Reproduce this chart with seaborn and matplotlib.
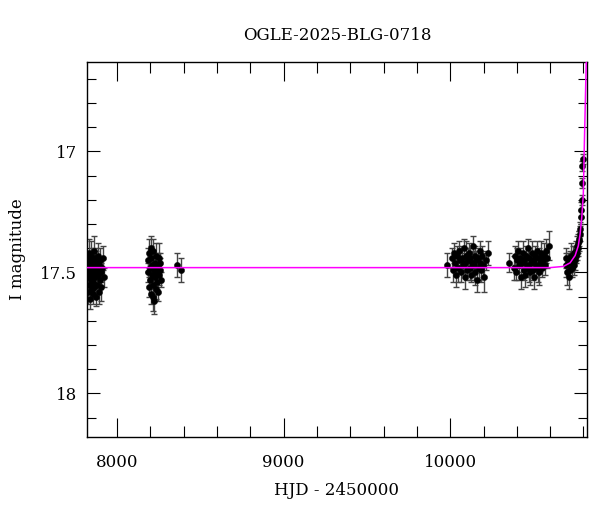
# OGLE-2025-BLG-0718 light curve with PSPL model
import matplotlib
matplotlib.use("Agg")
import matplotlib.pyplot as plt
from matplotlib.ticker import MultipleLocator
import seaborn as sns
import pandas as pd

# season 1
t1 = [7822, 7824, 7826, 7828, 7830, 7832, 7834, 7836, 7838, 7840,
      7842, 7844, 7846, 7848, 7850, 7852, 7854, 7856, 7858, 7860,
      7862, 7864, 7866, 7868, 7870, 7873, 7876, 7879, 7882, 7885,
      7888, 7891, 7894, 7897, 7900, 7903, 7907, 7911, 7915, 7920]
m1 = [17.47, 17.52, 17.44, 17.58, 17.49, 17.42, 17.55, 17.50, 17.46, 17.61,
      17.48, 17.53, 17.43, 17.57, 17.51, 17.45, 17.59, 17.47, 17.54, 17.41,
      17.50, 17.56, 17.48, 17.44, 17.52, 17.60, 17.46, 17.49, 17.55, 17.43,
      17.51, 17.58, 17.47, 17.53, 17.45, 17.50, 17.56, 17.48, 17.44, 17.52]
e1 = [0.04, 0.05, 0.03, 0.05, 0.04, 0.06, 0.04, 0.05, 0.03, 0.04,
      0.05, 0.04, 0.06, 0.04, 0.03, 0.05, 0.04, 0.05, 0.04, 0.06,
      0.04, 0.03, 0.05, 0.04, 0.06, 0.04, 0.05, 0.03, 0.04, 0.05,
      0.04, 0.05, 0.03, 0.04, 0.05, 0.04, 0.06, 0.04, 0.05, 0.04]

# season 2
t2 = [8186, 8189, 8192, 8195, 8198, 8201, 8204, 8207, 8210, 8213,
      8216, 8219, 8222, 8225, 8228, 8231, 8234, 8237, 8240, 8243,
      8246, 8249, 8252, 8255, 8258, 8261, 8264, 8203, 8218, 8233]
m2 = [17.45, 17.50, 17.42, 17.56, 17.48, 17.53, 17.44, 17.59, 17.47, 17.51,
      17.41, 17.55, 17.49, 17.62, 17.46, 17.52, 17.57, 17.43, 17.50, 17.54,
      17.47, 17.58, 17.44, 17.51, 17.49, 17.46, 17.53, 17.40, 17.60, 17.48]
e2 = [0.05, 0.04, 0.06, 0.04, 0.05, 0.03, 0.05, 0.04, 0.06, 0.04,
      0.05, 0.04, 0.03, 0.05, 0.04, 0.06, 0.04, 0.05, 0.04, 0.03,
      0.05, 0.04, 0.06, 0.04, 0.05, 0.04, 0.03, 0.05, 0.06, 0.04]

# season 3
t3 = [8362, 8384]
m3 = [17.47, 17.49]
e3 = [0.05, 0.05]

# season 4
t4 = [9982, 10010, 10018, 10025, 10031, 10037, 10043, 10049, 10055, 10061,
      10066, 10071, 10076, 10081, 10086, 10091, 10096, 10101, 10106, 10111,
      10116, 10121, 10126, 10131, 10136, 10141, 10146, 10151, 10156, 10161,
      10166, 10171, 10176, 10181, 10186, 10192, 10198, 10205, 10215, 10228]
m4 = [17.47, 17.44, 17.49, 17.42, 17.46, 17.51, 17.43, 17.48, 17.41, 17.45,
      17.50, 17.44, 17.47, 17.40, 17.52, 17.46, 17.43, 17.49, 17.45, 17.42,
      17.48, 17.44, 17.51, 17.46, 17.39, 17.47, 17.43, 17.50, 17.45, 17.53,
      17.44, 17.48, 17.41, 17.46, 17.49, 17.43, 17.47, 17.52, 17.45, 17.42]
e4 = [0.05, 0.04, 0.05, 0.04, 0.03, 0.05, 0.04, 0.06, 0.04, 0.05,
      0.04, 0.05, 0.03, 0.04, 0.05, 0.04, 0.06, 0.04, 0.05, 0.04,
      0.05, 0.04, 0.03, 0.05, 0.04, 0.06, 0.04, 0.05, 0.04, 0.05,
      0.04, 0.05, 0.04, 0.03, 0.05, 0.04, 0.05, 0.06, 0.04, 0.05]

# season 5
t5 = [10352, 10385, 10392, 10398, 10404, 10410, 10416, 10421, 10426, 10431,
      10436, 10441, 10446, 10451, 10456, 10461, 10466, 10471, 10476, 10481,
      10486, 10491, 10496, 10501, 10506, 10511, 10516, 10521, 10526, 10531,
      10536, 10541, 10546, 10551, 10556, 10562, 10568, 10575, 10583, 10592]
m5 = [17.46, 17.48, 17.43, 17.50, 17.45, 17.41, 17.47, 17.44, 17.52, 17.46,
      17.42, 17.49, 17.45, 17.51, 17.43, 17.47, 17.40, 17.48, 17.44, 17.50,
      17.46, 17.42, 17.49, 17.45, 17.52, 17.43, 17.47, 17.41, 17.48, 17.44,
      17.50, 17.46, 17.42, 17.48, 17.45, 17.43, 17.47, 17.41, 17.44, 17.39]
e5 = [0.04, 0.05, 0.04, 0.03, 0.05, 0.04, 0.06, 0.04, 0.05, 0.04,
      0.05, 0.04, 0.03, 0.05, 0.04, 0.05, 0.04, 0.06, 0.04, 0.05,
      0.04, 0.05, 0.04, 0.03, 0.05, 0.04, 0.05, 0.04, 0.06, 0.04,
      0.05, 0.04, 0.05, 0.04, 0.03, 0.05, 0.04, 0.05, 0.04, 0.06]

# season 6 (rising)
t6 = [10693, 10698, 10703, 10708, 10713, 10718, 10722, 10726, 10730, 10734,
      10738, 10742, 10746, 10750, 10754, 10758, 10761, 10764, 10767, 10770,
      10773, 10776, 10779, 10782, 10785, 10788, 10790, 10792, 10794, 10796]
m6 = [17.47, 17.44, 17.50, 17.46, 17.52, 17.45, 17.49, 17.43, 17.48, 17.46,
      17.44, 17.47, 17.42, 17.45, 17.41, 17.43, 17.39, 17.42, 17.38, 17.40,
      17.36, 17.37, 17.34, 17.32, 17.27, 17.24, 17.20, 17.13, 17.06, 17.03]
e6 = [0.05, 0.04, 0.05, 0.04, 0.05, 0.04, 0.03, 0.05, 0.04, 0.04,
      0.05, 0.04, 0.03, 0.04, 0.04, 0.03, 0.04, 0.03, 0.04, 0.03,
      0.03, 0.04, 0.03, 0.03, 0.03, 0.03, 0.02, 0.02, 0.02, 0.02]

# model curve
model_t = [7820, 10600, 10680, 10720, 10750, 10769, 10780, 10790, 10799, 10805, 10811, 10817, 10822]
model_m = [17.48, 17.48, 17.475, 17.46, 17.43, 17.39, 17.34, 17.27, 17.18, 16.98, 16.80, 16.62, 16.45]

df = pd.DataFrame({
    "hjd": t1 + t2 + t3 + t4 + t5 + t6,
    "mag": m1 + m2 + m3 + m4 + m5 + m6,
    "err": e1 + e2 + e3 + e4 + e5 + e6,
})
model = pd.DataFrame({"hjd": model_t, "mag": model_m})

sns.set_style("ticks")
plt.rcParams['font.family'] = ['DejaVu Serif']
plt.rcParams['text.color'] = 'black'
plt.rcParams['axes.labelcolor'] = 'black'
plt.rcParams['xtick.color'] = 'black'
plt.rcParams['ytick.color'] = 'black'
plt.rcParams['axes.edgecolor'] = 'black'

fig = plt.figure(figsize=(6, 5.12), dpi=100)
ax = fig.add_axes([0.145, 0.1465, 0.833, 0.7325])

ax.errorbar(df["hjd"], df["mag"], yerr=df["err"], fmt="none",
            ecolor="#444444", elinewidth=1, capsize=2.5, capthick=1, zorder=1)
sns.scatterplot(data=df, x="hjd", y="mag", ax=ax, color="black", s=20,
                edgecolor="black", linewidth=0.3, zorder=2)
sns.lineplot(data=model, x="hjd", y="mag", ax=ax, color="magenta",
             linewidth=1.1, sort=False, estimator=None, zorder=3)

ax.set_xlim(7820, 10820)
ax.set_ylim(18.18, 16.63)
ax.xaxis.set_major_locator(MultipleLocator(1000))
ax.xaxis.set_minor_locator(MultipleLocator(200))
ax.yaxis.set_major_locator(MultipleLocator(0.5))
ax.yaxis.set_minor_locator(MultipleLocator(0.1))
ax.yaxis.set_major_formatter(matplotlib.ticker.FuncFormatter(lambda v, p: f"{v:g}"))

ax.tick_params(axis="both", which="both", direction="in", top=True, right=True,
               labelsize=12, width=0.8)
ax.tick_params(axis="x", which="major", length=14, pad=12)
ax.tick_params(axis="x", which="minor", length=8)
ax.tick_params(axis="y", which="major", length=9.5, pad=7)
ax.tick_params(axis="y", which="minor", length=6.5)
for s in ax.spines.values():
    s.set_linewidth(1)

ax.set_xlabel("HJD - 2450000", fontsize=12, labelpad=8)
ax.set_ylabel("I magnitude", fontsize=12, labelpad=10)
ax.set_title("OGLE-2025-BLG-0718", fontsize=12, pad=16)

fig.savefig("out.png", dpi=100, facecolor="white")
